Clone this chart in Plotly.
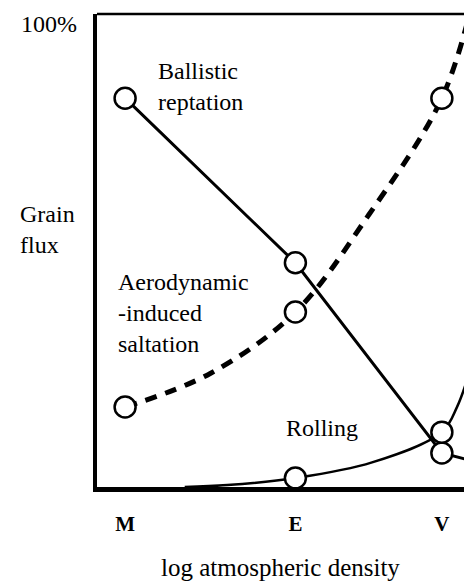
import plotly.graph_objects as go

# planets along the density axis (positions on a plain numeric axis)
planets = ['M', 'E', 'V']
planet_x = [1.0, 2.0, 2.86]

# share of grain flux (%) at each planet
ballistic = [82.2, 47.4, 7.2]
aerodynamic = [16.9, 37.0, 82.2]
rolling = [0.0, 1.9, 11.6]

# curve traces (incl. the run-out past V)
ballistic_x = [1.0, 2.0, 2.86, 3.05]
ballistic_y = [82.2, 47.4, 7.2, 5.4]
aero_x = [1.0, 1.5, 2.0, 2.43, 2.86, 3.05]
aero_y = [16.9, 24.0, 37.0, 57.5, 82.2, 104.0]
roll_x = [1.35, 1.6, 2.0, 2.45, 2.86, 2.95, 3.02]
roll_y = [0.0, 0.4, 1.9, 5.2, 11.6, 17.0, 24.0]

W, H = 464, 583
L, R, T, B = 97, 464, 14, 487
FONT = 'Liberation Serif'


def px(x, y):
    """pixel position -> paper coords"""
    return (x - L) / (R - L), (B - y) / (B - T)


fig = go.Figure()

fig.add_trace(go.Scatter(x=ballistic_x, y=ballistic_y, mode='lines',
                         line=dict(color='black', width=3), hoverinfo='skip'))
fig.add_trace(go.Scatter(x=aero_x, y=aero_y, mode='lines',
                         line=dict(color='black', width=5, dash='12px,9px', shape='spline'),
                         hoverinfo='skip'))
fig.add_trace(go.Scatter(x=roll_x, y=roll_y, mode='lines',
                         line=dict(color='black', width=2.5, shape='spline'),
                         hoverinfo='skip'))

circle = dict(symbol='circle', size=21, color='white', line=dict(color='black', width=2.5))
fig.add_trace(go.Scatter(x=planet_x, y=ballistic, mode='markers', marker=circle))
fig.add_trace(go.Scatter(x=planet_x, y=aerodynamic, mode='markers', marker=circle))
fig.add_trace(go.Scatter(x=planet_x[1:], y=rolling[1:], mode='markers', marker=circle))

labels = [
    ('100%', 19, 24),
    ('Grain<br>flux', 18, 230),
    ('Ballistic<br>reptation', 156, 87),
    ('Aerodynamic<br>-induced<br>saltation', 116, 313),
    ('Rolling', 284, 428),
]
for text, x, y in labels:
    ax, ay = px(x, y)
    fig.add_annotation(text=text, x=ax, y=ay, xref='paper', yref='paper',
                       xanchor='left', yanchor='middle', align='left',
                       showarrow=False, font=dict(family=FONT, size=24, color='black'))

tx, ty = px(280, 567)
fig.add_annotation(text='log atmospheric density', x=tx, y=ty, xref='paper', yref='paper',
                   xanchor='center', yanchor='middle', showarrow=False,
                   font=dict(family=FONT, size=25, color='black'))

# top frame line only (no right border)
fig.add_shape(type='line', xref='paper', yref='paper', x0=0, x1=1, y0=1, y1=1,
              line=dict(color='black', width=2.5))

fig.update_layout(
    width=W, height=H,
    margin=dict(l=L, r=W - R, t=T, b=H - B),
    paper_bgcolor='white', plot_bgcolor='white',
    showlegend=False,
    xaxis=dict(range=[0.835, 2.99], showgrid=False, zeroline=False,
               showline=True, linecolor='black', linewidth=5,
               tickmode='array', tickvals=planet_x, ticktext=['<b>%s</b>' % p for p in planets],
               ticks='', ticklabelstandoff=14,
               tickfont=dict(family=FONT, size=21, color='black')),
    yaxis=dict(range=[0, 100], showgrid=False, zeroline=False,
               showline=True, linecolor='black', linewidth=4,
               showticklabels=False, ticks=''),
)

fig.write_html('out.html', config={'displayModeBar': False},
               post_script="document.body.style.margin='0';")
